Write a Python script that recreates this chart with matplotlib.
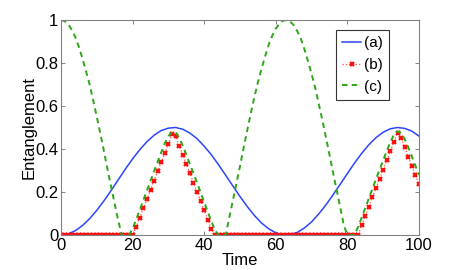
import matplotlib
matplotlib.use("Agg")
import matplotlib.pyplot as plt
import numpy as np

plt.rcParams['font.family'] = ['Liberation Sans', 'DejaVu Sans']

# data
time_a = list(range(0, 101, 2))
ent_a = [0.000, 0.005, 0.020, 0.044, 0.076, 0.115, 0.159, 0.207, 0.257, 0.307,
         0.354, 0.397, 0.434, 0.464, 0.486, 0.497, 0.500, 0.492, 0.474, 0.448,
         0.413, 0.373, 0.327, 0.278, 0.228, 0.179, 0.133, 0.091, 0.056, 0.029,
         0.010, 0.001, 0.002, 0.012, 0.033, 0.061, 0.098, 0.140, 0.187, 0.236,
         0.286, 0.335, 0.380, 0.420, 0.453, 0.478, 0.494, 0.500, 0.496, 0.483,
         0.460]

time_bc = list(range(0, 101))
ent_b = [0.0] * 21 + [
    0.038, 0.081, 0.124, 0.167, 0.210, 0.253, 0.296, 0.339, 0.382, 0.425,
    0.468, 0.459, 0.416, 0.373, 0.330, 0.287, 0.244, 0.201, 0.158, 0.115,
    0.072, 0.029] + [0.0] * 41 + [
    0.046, 0.089, 0.132, 0.175, 0.218, 0.261, 0.304, 0.347, 0.390, 0.433,
    0.476, 0.451, 0.408, 0.365, 0.322, 0.279, 0.236]

ent_c = [1.000, 0.995, 0.980, 0.955, 0.920, 0.875, 0.820, 0.760, 0.700, 0.625,
         0.550, 0.470, 0.390, 0.305, 0.225, 0.145, 0.065, 0.000, 0.000, 0.000,
         0.030, 0.072, 0.117, 0.162, 0.207, 0.252, 0.296, 0.340, 0.384, 0.427,
         0.459, 0.480, 0.478, 0.453, 0.416, 0.374, 0.330, 0.287, 0.243, 0.198,
         0.153, 0.108, 0.064, 0.022, 0.000, 0.000, 0.000, 0.080, 0.160, 0.240,
         0.320, 0.405, 0.485, 0.565, 0.640, 0.710, 0.772, 0.830, 0.885, 0.927,
         0.960, 0.983, 0.997, 1.000, 0.993, 0.976, 0.948, 0.912, 0.864, 0.808,
         0.748, 0.685, 0.610, 0.534, 0.454, 0.373, 0.289, 0.209, 0.129, 0.045,
         0.000, 0.000, 0.000, 0.039, 0.081, 0.126, 0.171, 0.216, 0.261, 0.304,
         0.348, 0.392, 0.432, 0.466, 0.482, 0.475, 0.446, 0.408, 0.366, 0.322,
         0.279]

labels = ['(a)', '(b)', '(c)']

fig = plt.figure(figsize=(4.63, 2.70), dpi=100)
ax = fig.add_axes([61 / 463, 1 - 235 / 270, 358 / 463, 215 / 270])

ax.plot(time_a, ent_a, '-', color='#2b45ff', lw=1.1, label=labels[0])
ax.plot(time_bc, ent_b, ':', color='#ff5050', lw=0.9, marker='x', ms=3.0,
        mew=1.6, mec='#ff1010', label=labels[1])
ax.plot(time_bc, ent_c, '--', color='#2ca814', lw=1.4, dashes=(2.8, 2.2),
        label=labels[2])

ax.set_xlim(0, 100)
ax.set_ylim(0, 1)
ax.set_xticks([0, 20, 40, 60, 80, 100])
ax.set_yticks([0, 0.2, 0.4, 0.6, 0.8, 1])
ax.set_yticklabels(['0', '0.2', '0.4', '0.6', '0.8', '1'])
ax.tick_params(direction='in', top=True, right=True, length=3, width=0.6,
               color='#707070', labelsize=12, pad=2)
for s in ax.spines.values():
    s.set_color('#808080')
    s.set_linewidth(0.8)

ax.set_xlabel('Time', fontsize=12, labelpad=0)
ax.set_ylabel('Entanglement', fontsize=12, labelpad=-1)

leg = ax.legend(loc='upper right', bbox_to_anchor=(0.917, 0.952), fontsize=11,
                frameon=True, fancybox=False, handlelength=1.25,
                handletextpad=0.2, borderpad=0.4, labelspacing=0.5,
                borderaxespad=0)
leg.get_frame().set_edgecolor('black')
leg.get_frame().set_linewidth(0.8)

fig.savefig('out.png', dpi=100)
